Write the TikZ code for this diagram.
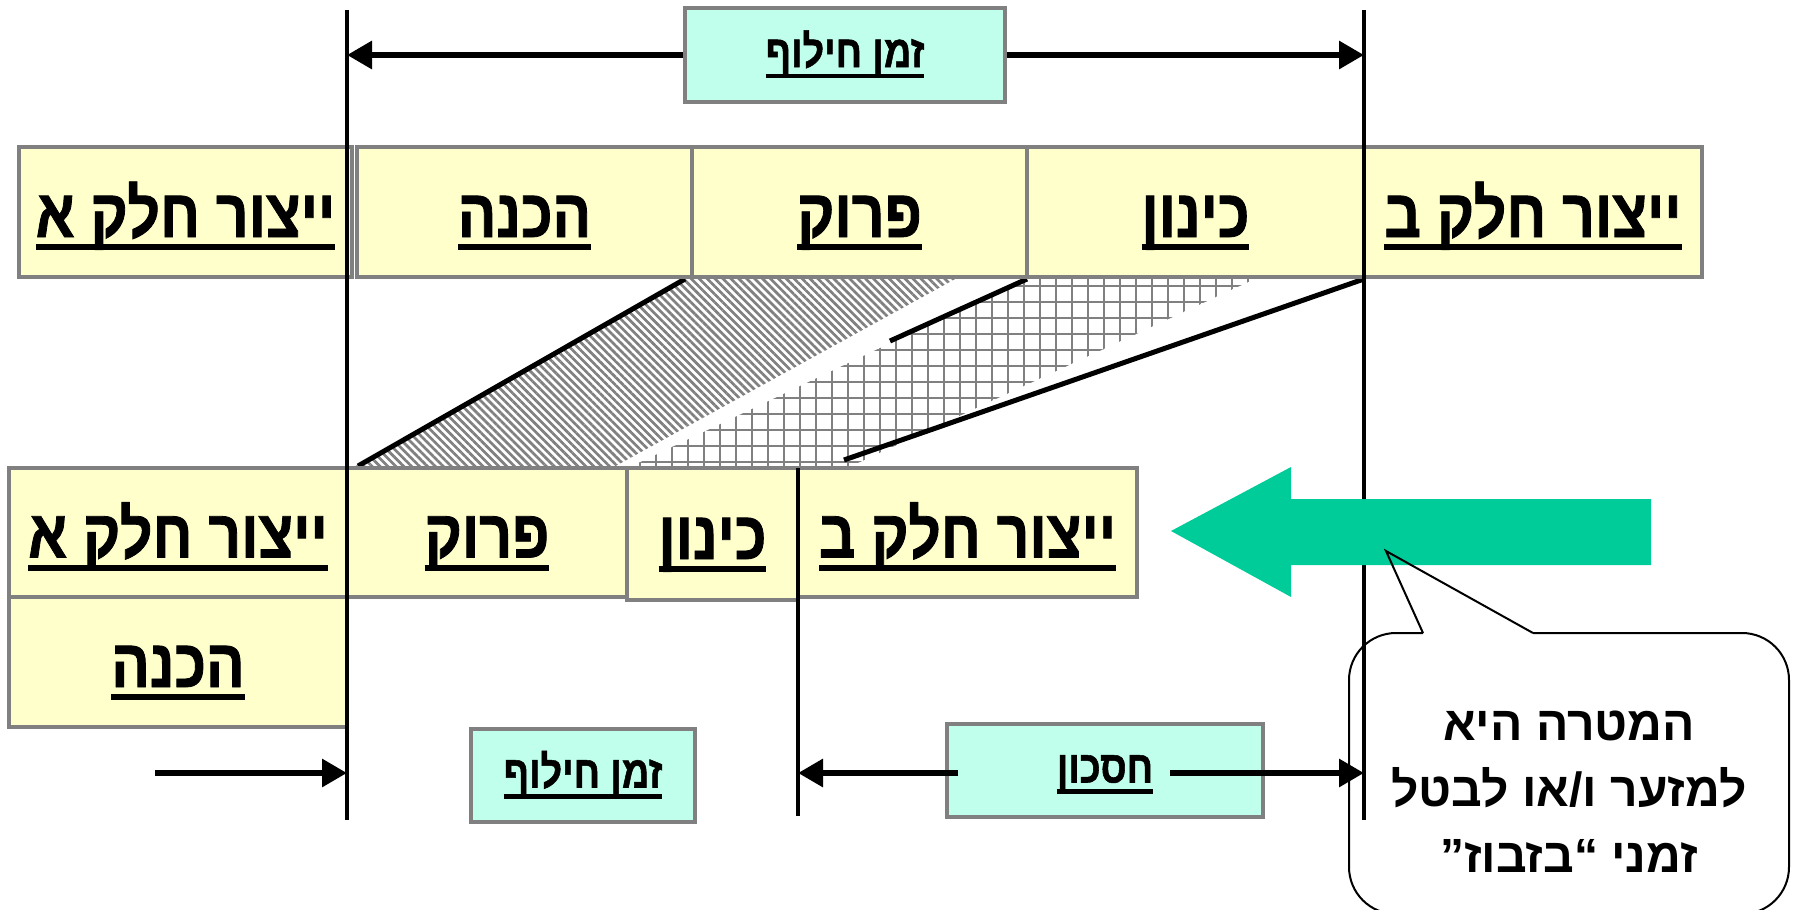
\documentclass[tikz,border=0pt]{standalone}
\usepackage{fontspec}
\usetikzlibrary{arrows.meta,patterns.meta}
\TeXXeTstate=1
\newfontfamily\hebN[Script=Hebrew,FakeStretch=0.84,FakeBold=1.2]{Liberation Sans}
\newfontfamily\hebW[Script=Hebrew]{Liberation Sans}
\newcommand\hulB[1]{\setbox0=\hbox{\beginR #1\endR}\rlap{\copy0}\rule[-6.5pt]{\wd0}{3pt}}
\newcommand\hulS[1]{\setbox0=\hbox{\beginR #1\endR}\rlap{\copy0}\rule[-5.5pt]{\wd0}{2.2pt}}
\definecolor{boxY}{HTML}{FFFFCC}
\definecolor{boxC}{HTML}{C0FFEC}
\definecolor{bord}{HTML}{808080}
\definecolor{grn}{HTML}{00CC99}
\tikzset{
  ybox/.style={draw=bord, fill=boxY, line width=2pt, inner sep=0pt,
    text height=25pt, text depth=0pt,
    font=\hebN\bfseries\fontsize{34}{40}\selectfont},
  cbox/.style={draw=bord, fill=boxC, line width=1.6pt, inner sep=0pt,
    text height=12pt, text depth=0pt,
    font=\hebN\bfseries\fontsize{22.5}{26}\selectfont},
  vline/.style={line width=2pt},
  dline/.style={line width=2.5pt},
  dimarrow/.style={line width=3pt, -{Triangle[length=12.5pt,width=13.5pt]}},
  callout/.style={line width=1pt}
}
\begin{document}
\begin{tikzpicture}[x=0.5pt,y=-0.5pt]
\useasboundingbox (0,0) rectangle (1800,910);
% hatched transitions
\fill[pattern={Lines[angle=-45,distance=2.8pt,line width=1.35pt]}, pattern color=bord]
  (352,468) -- (685,278) -- (957,278) -- (612,468) -- cycle;
\fill[pattern={Lines[angle=0,distance=8pt,line width=1pt]}, pattern color=bord]
  (628,468) -- (1027,278) -- (1257,278) -- (860,462) -- (845,468) -- cycle;
\fill[pattern={Lines[angle=90,distance=8pt,line width=1pt]}, pattern color=bord]
  (628,468) -- (1027,278) -- (1257,278) -- (860,462) -- (845,468) -- cycle;
% diagonal edges
\coordinate (d1a) at (358,466); \coordinate (d1b) at (685,279);
\coordinate (d2a) at (1027,279); \coordinate (d2b) at (890,341);
\coordinate (d3a) at (1364,279); \coordinate (d3b) at (844,460);
\draw[dline] (d1a) -- (d1b);
\draw[dline] (d2a) -- (d2b);
\draw[dline] (d3a) -- (d3b);
% top row
\node[ybox, minimum width=166.5pt, minimum height=65pt] (tA) at (185.5,212) {\hulB{ייצור חלק א}};
\node[ybox, minimum width=167.5pt, minimum height=65pt] (tB) at (524.5,212) {\hulB{הכנה}};
\node[ybox, minimum width=167.5pt, minimum height=65pt] (tC) at (859.5,212) {\hulB{פרוק}};
\node[ybox, minimum width=168.5pt, minimum height=65pt] (tD) at (1195.5,212) {\hulB{כינון}};
\node[ybox, minimum width=169pt, minimum height=65pt] (tE) at (1533,212) {\hulB{ייצור חלק ב}};
% bottom rows
\node[ybox, minimum width=169pt, minimum height=64.5pt] (bA) at (178,532.5) {\hulB{ייצור חלק א}};
\node[ybox, minimum width=140pt, minimum height=64.5pt] (bB) at (487,532.5) {\hulB{פרוק}};
\node[ybox, minimum width=169.5pt, minimum height=64.5pt] (bD) at (967.5,532.5) {\hulB{ייצור חלק ב}};
\node[ybox, minimum width=85.5pt, minimum height=66pt] (bC) at (712.5,534) {\hulB{כינון}};
\node[ybox, minimum width=169pt, minimum height=65pt] (bE) at (178,662) {\hulB{הכנה}};
% cyan labels
\node[cbox, minimum width=160pt, minimum height=47pt] (zT) at (845,55) {\hulS{זמן חילוף}};
\node[cbox, minimum width=112pt, minimum height=46.5pt] (zB) at (583,775.5) {\hulS{זמן חילוף}};
\node[cbox, minimum width=158pt, minimum height=46.5pt] (cH) at (1105,770.5) {\hulS{חסכון}};
% vertical lines
\coordinate (v1t) at (347,10); \coordinate (v1b) at (347,820);
\coordinate (v2t) at (1364,10); \coordinate (v2b) at (1364,820);
\coordinate (v3t) at (798,468); \coordinate (v3b) at (798,816);
\draw[vline] (v1t) -- (v1b);
\draw[vline] (v2t) -- (v2b);
\draw[vline] (v3t) -- (v3b);
% dimension arrows
\coordinate (aTL) at (347,55); \coordinate (aTR) at (1364,55);
\draw[dimarrow] (zT.west) -- (aTL);
\draw[dimarrow] (zT.east) -- (aTR);
\coordinate (bLs) at (155,773); \coordinate (bLe) at (347,773);
\draw[dimarrow] (bLs) -- (bLe);
\coordinate (cLs) at (958,773); \coordinate (cLe) at (798,773);
\coordinate (cRs) at (1170,773); \coordinate (cRe) at (1364,773);
\draw[dimarrow] (cLs) -- (cLe);
\draw[dimarrow] (cRs) -- (cRe);
% green arrow
\fill[grn] (1171,531) -- (1291,467) -- (1291,499) -- (1651,499) -- (1651,565)
  -- (1291,565) -- (1291,597) -- cycle;
% callout
\draw[callout] (1423,633) -- (1386,551) -- (1533,633);
\draw[callout, rounded corners=23.5pt] (1533,633) -- (1789,633) -- (1789,914)
  -- (1349,914) -- (1349,633) -- (1423,633);
\node[font=\hebW\bfseries\fontsize{24}{33}\selectfont, align=center] (note) at (1569,792)
  {\beginR המטרה היא\endR\\ \beginR למזער ו/או לבטל\endR\\ \beginR זמני “\kern0pt בזבוז\kern0pt ”\endR};
\end{tikzpicture}
\end{document}
